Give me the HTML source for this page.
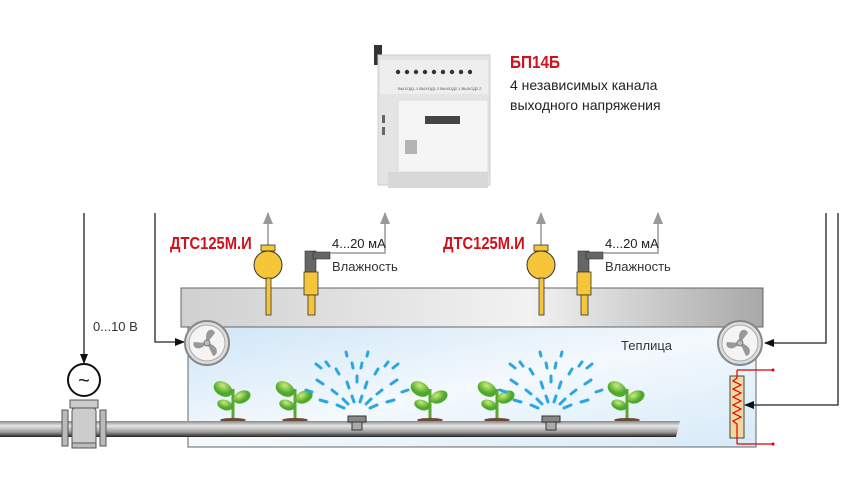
<!DOCTYPE html>
<html><head><meta charset="utf-8"><style>
body{margin:0;background:#fff;width:860px;height:485px;overflow:hidden}
svg{display:block}
text{font-family:"Liberation Sans",sans-serif}
</style></head><body>
<svg width="860" height="485" viewBox="0 0 860 485" xmlns="http://www.w3.org/2000/svg">
<defs>
<linearGradient id="gh" x1="0" y1="0" x2="1" y2="1">
<stop offset="0" stop-color="#cfe6f7"/><stop offset="0.5" stop-color="#f4f9fd"/><stop offset="1" stop-color="#d6eaf8"/></linearGradient>
<linearGradient id="roof" x1="0" y1="0" x2="1" y2="0">
<stop offset="0" stop-color="#d0d0d0"/><stop offset="0.6" stop-color="#f2f2f2"/><stop offset="1" stop-color="#a8a8a8"/></linearGradient>
<linearGradient id="pipe" x1="0" y1="0" x2="0" y2="1">
<stop offset="0" stop-color="#888"/><stop offset="0.3" stop-color="#e8e8e8"/><stop offset="0.7" stop-color="#999"/><stop offset="1" stop-color="#222"/></linearGradient>
<radialGradient id="leaf" cx="0.4" cy="0.3"><stop offset="0" stop-color="#c9ec7a"/><stop offset="1" stop-color="#4fa82c"/></radialGradient>
<marker id="ab" markerWidth="10" markerHeight="8" refX="9" refY="4" orient="auto" markerUnits="userSpaceOnUse"><path d="M0,0 L10,4 L0,8z" fill="#111"/></marker>
<marker id="ag" markerWidth="12" markerHeight="10" refX="11" refY="5" orient="auto" markerUnits="userSpaceOnUse"><path d="M0,0 L12,5 L0,10z" fill="#999"/></marker>
<g id="plant"><path d="M0,0 V-30" stroke="#5aa832" stroke-width="3"/>
<ellipse cx="-10" cy="-30" rx="10" ry="7" fill="url(#leaf)" transform="rotate(30 -10 -30)"/>
<ellipse cx="9" cy="-22" rx="9" ry="6" fill="url(#leaf)" transform="rotate(-25 9 -22)"/>
<ellipse cx="-8" cy="-14" rx="8" ry="5" fill="url(#leaf)" transform="rotate(20 -8 -14)"/>
<ellipse cx="0" cy="1" rx="13" ry="2" fill="#6b4a3a"/></g>
<g id="fan"><circle r="22" fill="#ddd" stroke="#888" stroke-width="2"/><circle r="18" fill="#f4f4f4" stroke="#aaa"/>
<path d="M0,0 C-4,-14 6,-16 8,-10Z M0,0 C12,2 12,12 6,13Z M0,0 C-8,10 -16,4 -13,-1Z" fill="#999"/><circle r="3" fill="#bbb" stroke="#777"/></g>
<g id="spray" stroke="#2aa6e0" stroke-width="3" stroke-linecap="round">
<path d="M-3,-8 l-2,-6 M3,-8 l2,-6 M-9,-6 l-5,-5 M9,-6 l5,-5 M-13,-2 l-7,-3 M13,-2 l7,-3 M-20,-16 l-5,-4 M20,-16 l5,-4 M-8,-22 l-2,-6 M8,-22 l2,-6 M-30,-8 l-7,-2 M30,-8 l7,-2 M-34,-26 l-6,-4 M34,-26 l6,-4 M-18,-36 l-3,-5 M18,-36 l3,-5 M-4,-42 l-1,-5 M4,-42 l1,-5 M-28,-44 l-3,-4 M28,-44 l3,-4 M-36,-42 l-5,-4 M36,-42 l5,-4 M-10,-54 l-1,-4 M10,-54 l1,-4 M-45,-18 l-6,-2 M45,-18 l6,-2 M-0,-28 v-6"/></g>
<g id="sprk"><rect x="-9" y="-6" width="18" height="6" fill="#888" stroke="#333"/><rect x="-5" y="0" width="10" height="8" fill="#aaa" stroke="#333"/></g>
</defs>

<!-- device -->
<g>
<rect x="374" y="45" width="8" height="20" fill="#333"/>
<rect x="378" y="55" width="112" height="130" fill="#e4e4e4" stroke="#ccc"/>
<rect x="380" y="60" width="108" height="34" fill="#eee"/>
<g fill="#333"><circle cx="398" cy="72" r="2.2"/><circle cx="407" cy="72" r="2.2"/><circle cx="416" cy="72" r="2.2"/><circle cx="425" cy="72" r="2.2"/><circle cx="434" cy="72" r="2.2"/><circle cx="443" cy="72" r="2.2"/><circle cx="452" cy="72" r="2.2"/><circle cx="461" cy="72" r="2.2"/><circle cx="470" cy="72" r="2.2"/></g>
<text x="398" y="90" font-size="4" fill="#555">ВЫХОД1.1  ВЫХОД1.2      ВЫХОД2.1  ВЫХОД2.2</text>
<rect x="398" y="100" width="90" height="72" fill="#f5f5f5" stroke="#ddd"/>
<rect x="425" y="116" width="35" height="8" fill="#444"/>
<rect x="405" y="140" width="12" height="14" fill="#888" opacity="0.6"/>
<rect x="388" y="172" width="100" height="16" fill="#d8d8d8"/>
<rect x="382" y="115" width="3" height="8" fill="#666"/><rect x="382" y="127" width="3" height="8" fill="#666"/>
</g>
<text x="510" y="68" font-size="18" font-weight="bold" fill="#d0101a" transform="translate(510 0) scale(0.85 1) translate(-510 0)">БП14Б</text>
<text x="510" y="90" font-size="14" fill="#222">4 независимых канала</text>
<text x="510" y="110" font-size="14" fill="#222">выходного напряжения</text>

<!-- roof & greenhouse -->
<rect x="188" y="327" width="568" height="120" fill="url(#gh)" stroke="#666" stroke-width="1"/>
<rect x="181" y="288" width="582" height="39" fill="url(#roof)" stroke="#666" stroke-width="1"/>
<text x="621" y="350" font-size="13" fill="#333">Теплица</text>

<!-- plants -->
<use href="#plant" x="233" y="419"/><use href="#plant" x="295" y="419"/><use href="#plant" x="430" y="419"/><use href="#plant" x="497" y="419"/><use href="#plant" x="627" y="419"/>
<use href="#spray" x="357" y="410"/><use href="#spray" x="551" y="410"/>
<!-- pipe -->
<path d="M0,421 H680 L676,437 H0Z" fill="url(#pipe)"/>
<use href="#sprk" x="357" y="422"/><use href="#sprk" x="551" y="422"/>

<!-- valve -->
<rect x="70" y="400" width="28" height="8" fill="#ccc" stroke="#555"/>
<rect x="62" y="410" width="6" height="36" fill="#bbb" stroke="#555"/><rect x="100" y="410" width="6" height="36" fill="#bbb" stroke="#555"/>
<rect x="72" y="408" width="24" height="37" rx="3" fill="#ccc" stroke="#555"/>
<rect x="72" y="443" width="24" height="5" fill="#bbb" stroke="#555"/>
<circle cx="84" cy="380" r="16" fill="#fff" stroke="#111" stroke-width="2"/>
<text x="84" y="387" font-size="20" text-anchor="middle" fill="#111">~</text>

<!-- lines -->
<g stroke="#222" stroke-width="1.3" fill="none">
<path d="M84,213 V363" marker-end="url(#ab)"/>
<path d="M155,213 V342 H184" marker-end="url(#ab)"/>
<path d="M826,213 V343 H765" marker-end="url(#ab)"/>
<path d="M838,213 V405 H745" marker-end="url(#ab)"/>
</g>
<text x="93" y="331" font-size="13" fill="#333">0...10 В</text>

<use href="#fan" x="207" y="343"/><use href="#fan" x="740" y="343"/>

<!-- heater -->
<rect x="730" y="376" width="14" height="62" fill="#f0d9a0" stroke="#444"/>
<path d="M737,370 V378 l-4,3 8,4 -8,4 8,4 -8,4 8,4 -8,4 8,4 -8,4 8,4 -8,4 4,3 V444" stroke="#d00" fill="none" stroke-width="1.2"/>
<path d="M737,370 H773 M737,444 H773" stroke="#d00" stroke-width="1.2"/>
<circle cx="773" cy="370" r="1.5" fill="#d00"/><circle cx="773" cy="444" r="1.5" fill="#d00"/>

<!-- sensors -->
<g id="s1">
<path d="M268,248 V213" stroke="#999" stroke-width="1.5" marker-end="url(#ag)"/>
<rect x="261" y="245" width="14" height="6" fill="#f5c53a" stroke="#333" stroke-width="0.8"/>
<circle cx="268" cy="265" r="14" fill="#f5c53a" stroke="#333"/>
<rect x="266" y="278" width="5" height="37" fill="#f5c53a" stroke="#333" stroke-width="0.8"/>
<rect x="305" y="251" width="11" height="22" fill="#666" stroke="#333" stroke-width="0.6"/>
<rect x="313" y="252" width="17" height="7" fill="#666" stroke="#333" stroke-width="0.6"/>
<rect x="304" y="272" width="14" height="23" fill="#f5c53a" stroke="#333" stroke-width="0.8"/>
<rect x="308" y="295" width="7" height="20" fill="#f5c53a" stroke="#333" stroke-width="0.8"/>
<path d="M330,253 H385 V213" stroke="#999" stroke-width="1.5" fill="none" marker-end="url(#ag)"/>
<text x="332" y="248" font-size="13" fill="#222">4...20 мА</text>
<text x="332" y="271" font-size="13" fill="#333">Влажность</text>
<text x="170" y="249" font-size="18" font-weight="bold" fill="#d0101a" transform="translate(170 0) scale(0.82 1) translate(-170 0)">ДТС125М.И</text>
</g>
<use href="#s1" x="273" y="0"/>
</svg>
</body></html>
